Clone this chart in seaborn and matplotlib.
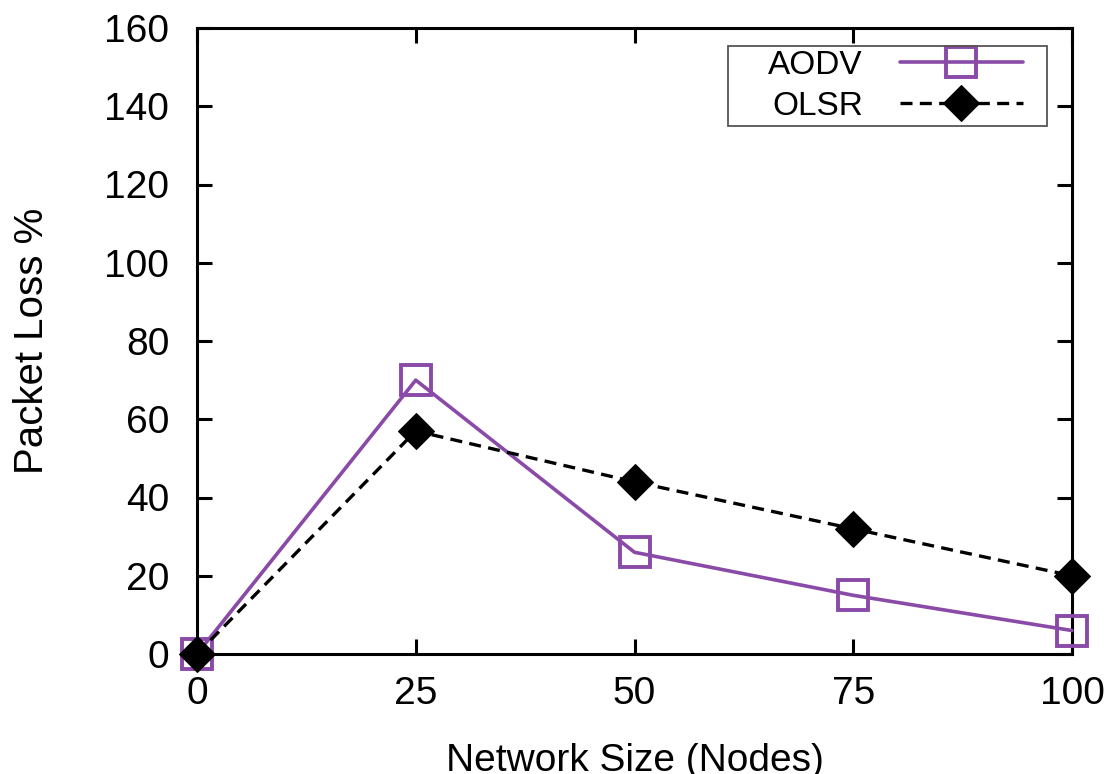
import matplotlib
matplotlib.use("Agg")
import matplotlib.pyplot as plt
from matplotlib.patches import Rectangle
import seaborn as sns
import pandas as pd

nodes = [0, 25, 50, 75, 100]
aodv = [0, 70, 26, 15, 6]
olsr = [0, 57, 44, 32, 20]
x_ticks = [0, 25, 50, 75, 100]
y_ticks = [0, 20, 40, 60, 80, 100, 120, 140, 160]

sns.set_style("ticks")
plt.rcParams['font.family'] = ['Liberation Sans', 'DejaVu Sans']
plt.rcParams.update({'text.color': 'black', 'axes.labelcolor': 'black',
                     'xtick.color': 'black', 'ytick.color': 'black',
                     'axes.edgecolor': 'black'})

purple = "#8a4aa8"

fig = plt.figure(figsize=(11.17, 7.74), dpi=100)
ax = fig.add_axes([197 / 1117, 1 - 654 / 774, (1072 - 197) / 1117, (654 - 28) / 774])

df_a = pd.DataFrame({'nodes': nodes, 'loss': aodv})
df_o = pd.DataFrame({'nodes': nodes, 'loss': olsr})

sns.lineplot(data=df_a, x='nodes', y='loss', ax=ax, color=purple, lw=2.6,
             marker='s', markersize=21, markerfacecolor='none',
             markeredgecolor=purple, markeredgewidth=2.8, label='AODV',
             clip_on=False, zorder=3)
sns.lineplot(data=df_o, x='nodes', y='loss', ax=ax, color='black', lw=2.4,
             linestyle=(0, (3.6, 2.2)), marker='D', markersize=18,
             markerfacecolor='black', markeredgecolor='black',
             label='OLSR', clip_on=False, zorder=4)

ax.set_xlim(0, 100)
ax.set_ylim(0, 160)
ax.set_xticks(x_ticks)
ax.set_yticks(y_ticks)
ax.tick_params(direction='in', length=11, width=2.2, labelsize=28,
               top=True, right=True)
ax.tick_params(axis='y', pad=20)
ax.tick_params(axis='x', pad=16)
for s in ax.spines.values():
    s.set_linewidth(2.2)
    s.set_visible(True)

ax.set_xlabel('Network Size (Nodes)', fontsize=28, labelpad=22)
ax.set_ylabel('Packet Loss %', fontsize=29, labelpad=38)

# gnuplot-style key: labels right-aligned, sample on the right, wide box
leg = ax.legend(loc='upper right', bbox_to_anchor=(0.944, 0.965), frameon=False,
                fontsize=24, markerfirst=False, handlelength=3.7, borderpad=0,
                labelspacing=0.3, handletextpad=1.1, borderaxespad=0)
for t in leg.get_texts():
    t.set_ha('right')

fig.canvas.draw()
bb = leg.get_window_extent()
x0, y0 = bb.x0 - 40, bb.y0 - 4
w, h = bb.width + 40 + 24, bb.height + 8
frame = Rectangle((x0 / fig.bbox.width, y0 / fig.bbox.height),
                  w / fig.bbox.width, h / fig.bbox.height,
                  transform=fig.transFigure, fill=False,
                  edgecolor='#555555', lw=1.3, zorder=5)
fig.add_artist(frame)

fig.savefig('out.png', dpi=100)
